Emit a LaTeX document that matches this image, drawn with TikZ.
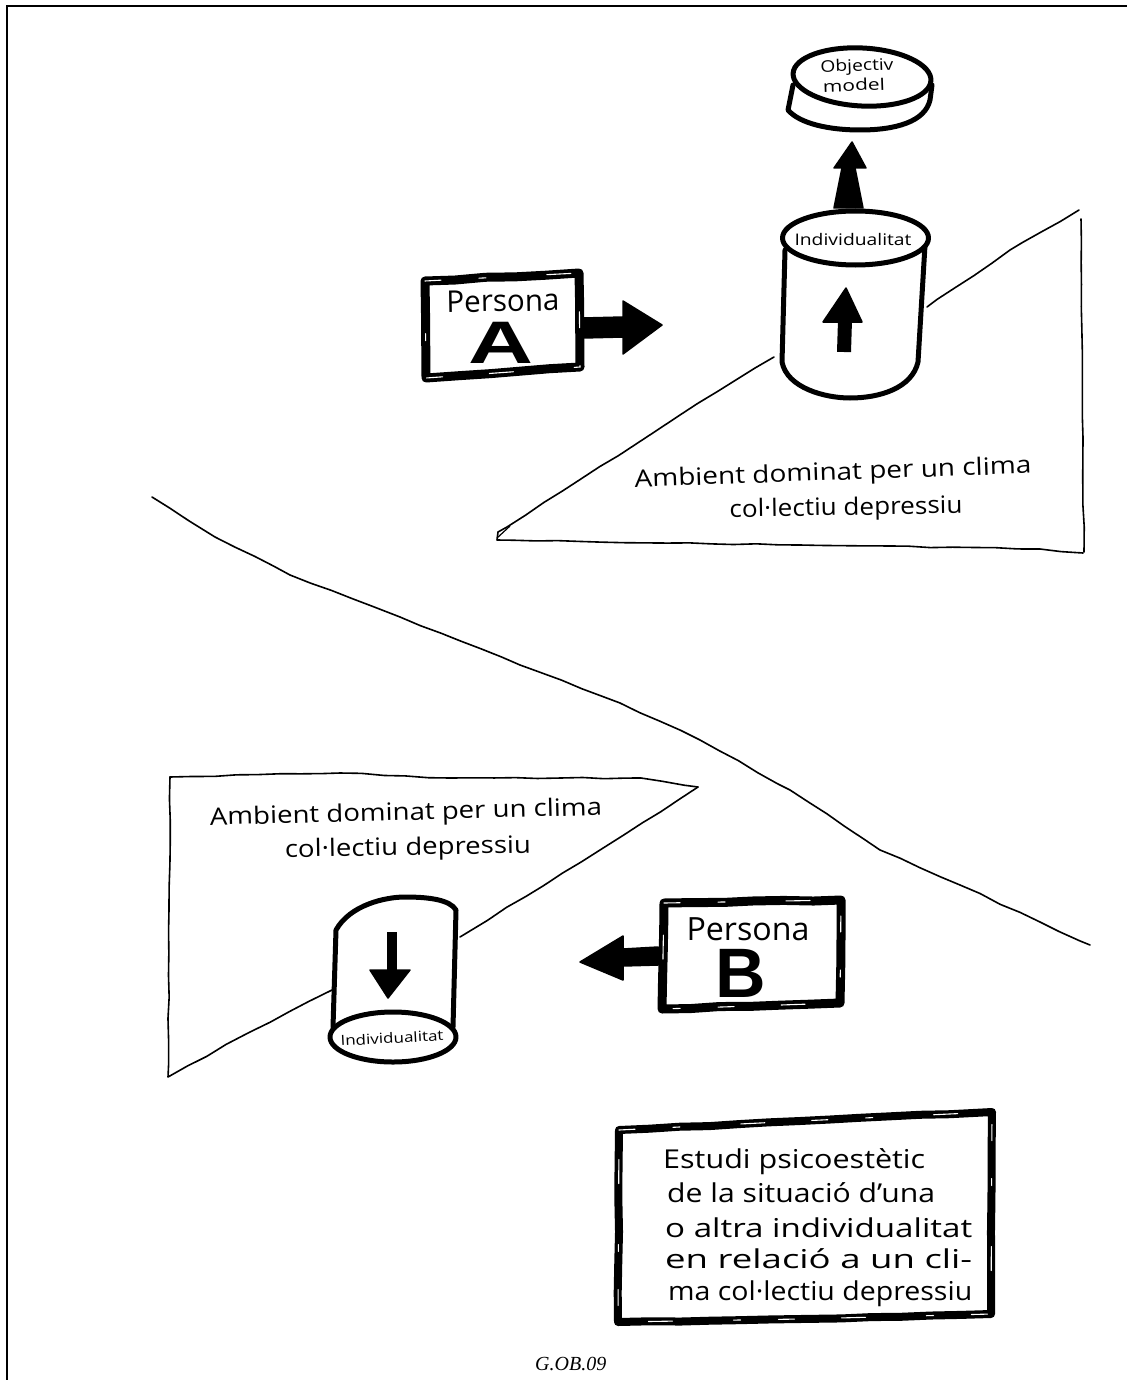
\documentclass[tikz,border=0pt]{standalone}
\usepackage{graphicx}
\usepackage{fontspec}
\setmainfont{Open Sans}
\newfontfamily\capsfont{Liberation Sans}
\newfontfamily\capfont{Liberation Serif}
\usetikzlibrary{decorations.pathmorphing}
\pgfmathsetseed{7}
% a line of hand lettering, stretched to the width it has in the drawing
\newcommand{\fitline}[2]{\resizebox{#1pt}{\height}{#2}}
\tikzset{
  x=1pt,y=-1pt,
  thinline/.style={draw=black,line width=1.6pt,line join=round,line cap=round,
     decorate,decoration={random steps,segment length=22pt,amplitude=.7pt}},
  heavy/.style={draw=black,line width=9pt,line join=round,line cap=round,
     decorate,decoration={random steps,segment length=30pt,amplitude=.6pt}},
  medium/.style={draw=black,line width=5pt,line join=round,line cap=round},
  fleck/.style={draw=white,line width=1.1pt,line cap=round,
     dash pattern=on 16pt off 38pt on 7pt off 61pt on 24pt off 47pt},
  inkfill/.style={fill=black,draw=black,line width=1.5pt,line join=round},
  hand/.style={inner sep=0pt,text=black},
  frameline/.style={draw=black,line width=1.6pt},
}
\begin{document}
\begin{tikzpicture}
\useasboundingbox (0,0) rectangle (1127,1380);
\fill[white] (0,0) rectangle (1127,1380);
% page frame
\draw[frameline] (7,1380) -- (7,6) -- (1127,6);
% long diagonal
\path[thinline] (152,497) -- (215,537) -- (290,575) -- (400,617) -- (520,665) -- (620,703) -- (700,740) -- (790,790) -- (880,850) -- (960,885) -- (1040,922) -- (1090,945);
% upper triangle
\path[thinline] (1079,210) -- (1010,250) -- (927,307);
\path[thinline] (1081,219) -- (1084,552);
\path[thinline] (1083,553) -- (1040,549) -- (800,545) -- (497,540) -- (498,532) -- (507,527) -- (680,415) -- (774,357);
\draw[line width=1.2pt] (497,538) -- (510,526);
% lower triangle
\path[thinline] (170,777) -- (340,773) -- (450,778) -- (641,778) -- (698,787);
\path[thinline] (698,787) -- (600,850) -- (460,937);
\path[thinline] (170,777) -- (168,1077) -- (250,1032) -- (332,990);
% Persona A
\path[heavy] (425,281) -- (579,273) -- (580,367) -- (426,378) -- cycle;
\path[fleck] (425,281) -- (579,273) -- (580,367) -- (426,378) -- cycle;
\node[hand,font=\fontsize{30}{30}\selectfont,rotate=1] (pa) at (503,301) {\fitline{113}{Persona}};
\node[inner sep=0pt,font=\capsfont\bfseries\fontsize{60}{60}\selectfont] (la) at (501,343) {\scalebox{1.5}[1]{A}};
% arrow A
\coordinate (aa0) at (583,328);
\coordinate (aa1) at (662,325);
\path[inkfill] (583,318) -- (623,317) -- (623,301) -- (aa1) -- (623,354) -- (623,337) -- (583,338) -- cycle;
% Objectiv disc
\draw[medium,fill=white] (793,85) -- (788,110) .. controls (800,124) and (830,130) .. (860,130) .. controls (895,130) and (925,122) .. (930,100) -- (932,85);
\draw[medium,fill=white,rotate around={-3:(862,77)}] (862,77) ellipse (69 and 29);
\node[hand,font=\fontsize{16}{16}\selectfont,rotate=2] (ob1) at (857,67) {\fitline{73}{Objectiv}};
\node[hand,font=\fontsize{16}{16}\selectfont,rotate=2] (ob2) at (854,85) {\fitline{62}{model}};
% arrow up
\coordinate (ub) at (848,205);
\coordinate (ut) at (852,142);
\path[inkfill] (834,208) -- (842,168) -- (834,168) -- (ut) -- (866,168) -- (855,168) -- (863,208) -- cycle;
% cylinder A
\draw[medium] (785,250) -- (782,362) .. controls (787,388) and (825,398) .. (850,398) .. controls (880,398) and (912,388) .. (918,362) -- (925,245);
\draw[medium,fill=white] (855.5,238) ellipse (73 and 27);
\node[hand,font=\fontsize{16}{16}\selectfont] (ia) at (853,240) {\fitline{117}{Individualitat}};
\coordinate (ca1) at (844,352);
\coordinate (ca2) at (845,320);
\draw[line width=14pt] (ca1) -- (ca2);
\path[inkfill] (823,322) -- (846,288) -- (862,322) -- cycle;
\node[hand,font=\fontsize{24}{24}\selectfont,rotate=2] (ambA1) at (833,474) {\fitline{397}{Ambient dominat per un clima}};
\node[hand,font=\fontsize{24}{24}\selectfont,rotate=1] (ambA2) at (846,509) {\fitline{233}{col·lectiu depressiu}};
% Lower ambient
\node[hand,font=\fontsize{24}{24}\selectfont,rotate=1.5] (ambB1) at (406,814) {\fitline{392}{Ambient dominat per un clima}};
\node[hand,font=\fontsize{24}{24}\selectfont,rotate=1] (ambB2) at (408,849) {\fitline{246}{col·lectiu depressiu}};
% cylinder B
\draw[medium] (333,1027) -- (336,930) .. controls (350,905) and (385,897) .. (405,897) .. controls (430,897) and (450,900) .. (456,910) -- (453,1027);
\draw[medium,fill=white] (393,1037) ellipse (63 and 25);
\node[hand,font=\fontsize{14}{14}\selectfont,rotate=3] (ib) at (392,1038) {\fitline{103}{Individualitat}};
\coordinate (cb1) at (392,932);
\coordinate (cb2) at (392,972);
\draw[line width=10pt] (cb1) -- (cb2);
\path[inkfill] (370,970) -- (410,970) -- (388,998) -- cycle;
% Persona B
\path[heavy] (664,903) -- (841,900) -- (840,1003) -- (662,1009) -- cycle;
\path[fleck] (664,903) -- (841,900) -- (840,1003) -- (662,1009) -- cycle;
\node[hand,font=\fontsize{32}{32}\selectfont] (pb) at (748,929) {\fitline{123}{Persona}};
\node[inner sep=0pt,font=\capsfont\bfseries\fontsize{70}{70}\selectfont] (lb) at (741,973) {B};
% arrow B
\coordinate (ab0) at (658,956);
\coordinate (ab1) at (580,962);
\path[inkfill] (658,947) -- (623,949) -- (623,936) -- (ab1) -- (623,980) -- (623,966) -- (658,965) -- cycle;
% Text box
\path[heavy,line width=8pt] (619,1130) -- (800,1121) -- (992,1112) -- (991,1314) -- (800,1319) -- (618,1322) -- cycle;
\path[fleck] (619,1130) -- (800,1121) -- (992,1112) -- (991,1314) -- (800,1319) -- (618,1322) -- cycle;
\node[hand,anchor=base west,font=\fontsize{26}{26}\selectfont] (est1) at (663,1168) {\fitline{262}{Estudi psicoestètic}};
\node[hand,anchor=base west,font=\fontsize{26}{26}\selectfont] (est2) at (667,1202) {\fitline{268}{de la situació d'una}};
\node[hand,anchor=base west,font=\fontsize{26}{26}\selectfont] (est3) at (665,1237) {\fitline{307}{o altra individualitat}};
\node[hand,anchor=base west,font=\fontsize{26}{26}\selectfont] (est4) at (665,1268) {\fitline{307}{en relació a un cli-}};
\node[hand,anchor=base west,font=\fontsize{26}{26}\selectfont] (est5) at (668,1300) {\fitline{304}{ma col·lectiu depressiu}};
% caption
\node[inner sep=0pt,anchor=base west,font=\capfont\itshape\fontsize{20}{20}\selectfont] (cap) at (535,1370) {G.OB.09};
\end{tikzpicture}
\end{document}
